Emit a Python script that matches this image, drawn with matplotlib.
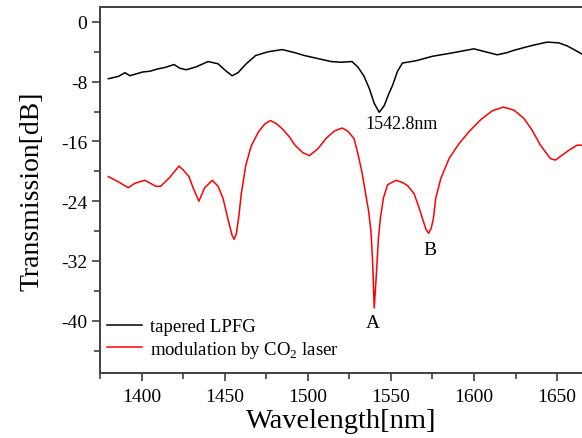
import numpy as np
import matplotlib
matplotlib.use('Agg')
import matplotlib.pyplot as plt

matplotlib.rcParams['font.family'] = 'serif'
matplotlib.rcParams['font.serif'] = ['Liberation Serif', 'DejaVu Serif']
matplotlib.rcParams['mathtext.fontset'] = 'custom'
matplotlib.rcParams['mathtext.rm'] = 'Liberation Serif'
matplotlib.rcParams['axes.unicode_minus'] = False

# tapered LPFG (black)
wl_lpfg = [1380, 1386, 1390, 1393, 1396, 1400.7, 1405, 1409.5, 1414, 1419.6, 1423, 1427,
           1433, 1440, 1446, 1451, 1454.5, 1458, 1463, 1468.6, 1476, 1484.6, 1492,
           1498, 1506, 1514, 1520, 1526.6, 1530, 1533.7, 1537, 1540, 1543, 1546,
           1549, 1551, 1554, 1557, 1565, 1575, 1588, 1600, 1607, 1614, 1620, 1624,
           1634, 1644, 1651, 1656, 1661, 1665]
tr_lpfg = [-7.6, -7.3, -6.8, -7.2, -7.0, -6.7, -6.6, -6.3, -6.1, -5.7, -6.2, -6.4,
           -6.0, -5.3, -5.6, -6.6, -7.2, -6.8, -5.6, -4.5, -4.0, -3.7, -4.1,
           -4.5, -4.9, -5.3, -5.4, -5.3, -6.0, -7.2, -8.9, -10.9, -12.1, -11.2,
           -9.5, -8.5, -6.6, -5.5, -5.2, -4.6, -4.1, -3.6, -4.0, -4.4, -4.1, -3.8,
           -3.2, -2.7, -2.8, -3.2, -3.8, -4.3]

# modulation by CO2 laser (red)
wl_mod = [1380, 1386, 1392, 1396, 1402, 1408.5, 1411.5, 1417, 1422.5, 1425, 1428.5,
          1431, 1434.5, 1438, 1442.6, 1446, 1449, 1452, 1454.5, 1455.7, 1457, 1458.6,
          1460, 1462.7, 1466, 1470.4, 1474, 1477.5, 1481, 1484.6, 1489, 1492.3, 1497,
          1501, 1506, 1511, 1516, 1520.7, 1524, 1527.8, 1530, 1532.5, 1534.5, 1536.6,
          1538, 1539, 1540, 1541.5, 1542.5, 1543.7, 1545.5, 1548, 1553, 1557, 1560,
          1564, 1567, 1569, 1571, 1572.7, 1574.3, 1575.6, 1577, 1580, 1585, 1591,
          1597, 1604, 1611, 1617.6, 1624, 1630, 1635, 1640, 1646, 1649, 1652, 1657,
          1662, 1665]
tr_mod = [-20.7, -21.4, -22.2, -21.6, -21.2, -22.0, -22.0, -20.8, -19.3, -19.8, -20.7,
          -22.2, -24.0, -22.2, -21.2, -22.0, -23.6, -26.4, -28.6, -29.1, -28.4, -25.9,
          -23.0, -19.2, -16.6, -14.7, -13.7, -13.2, -13.6, -14.3, -15.4, -16.5, -17.5,
          -17.9, -17.0, -15.6, -14.6, -14.2, -14.6, -15.6, -17.5, -20.0, -22.6, -25.3,
          -28.0, -32.0, -38.3, -33.0, -29.0, -26.3, -23.6, -21.8, -21.2, -21.5, -21.9,
          -23.0, -24.9, -26.3, -27.7, -28.3, -27.6, -26.3, -23.6, -21.0, -18.3, -16.3,
          -14.7, -13.1, -11.9, -11.4, -11.8, -12.9, -14.5, -16.5, -18.3, -18.5, -18.0,
          -17.2, -16.5, -16.5]

fig = plt.figure(figsize=(5.82, 4.39), dpi=100)
ax = fig.add_axes([100/582, 65/439, 482/582, 366/439])

ax.plot(wl_lpfg, tr_lpfg, color='black', lw=1.1, label='tapered LPFG')
ax.plot(wl_mod, tr_mod, color='red', lw=1.1, label='modulation by CO$_2$ laser')

ax.set_xlim(1380, 1665)
ax.set_ylim(-47, 2)
ax.set_xticks([1400, 1450, 1500, 1550, 1600, 1650])
ax.set_xticks(np.arange(1375, 1666, 25), minor=True)
ax.set_yticks([0, -8, -16, -24, -32, -40])
ax.set_yticks(np.arange(-44, 1, 4), minor=True)

for side in ['left', 'bottom', 'top']:
    ax.spines[side].set_color('#404040')
    ax.spines[side].set_linewidth(1.4)
ax.spines['right'].set_visible(False)

ax.tick_params(which='both', direction='out', color='#404040', width=1.2, labelsize=14)
ax.tick_params(which='major', length=6, pad=3)
ax.tick_params(which='minor', length=4)
ax.tick_params(axis='x', which='major', pad=5)

ax.set_xlabel('Wavelength[nm]', fontsize=20.5, labelpad=2)
ax.set_ylabel('Transmission[dB]', fontsize=20, labelpad=12)

ax.text(1556.7, -13.6, '1542.8nm', fontsize=13, ha='center', va='center')
ax.text(1539, -40.3, 'A', fontsize=14, ha='center', va='center')
ax.text(1573.8, -30.5, 'B', fontsize=14, ha='center', va='center')

ax.legend(loc='lower left', bbox_to_anchor=(-0.013, 0.0), frameon=False, fontsize=13.5,
          handlelength=1.9, handletextpad=0.4, labelspacing=0.2, borderaxespad=0.3)

fig.savefig('out.png', dpi=100)
